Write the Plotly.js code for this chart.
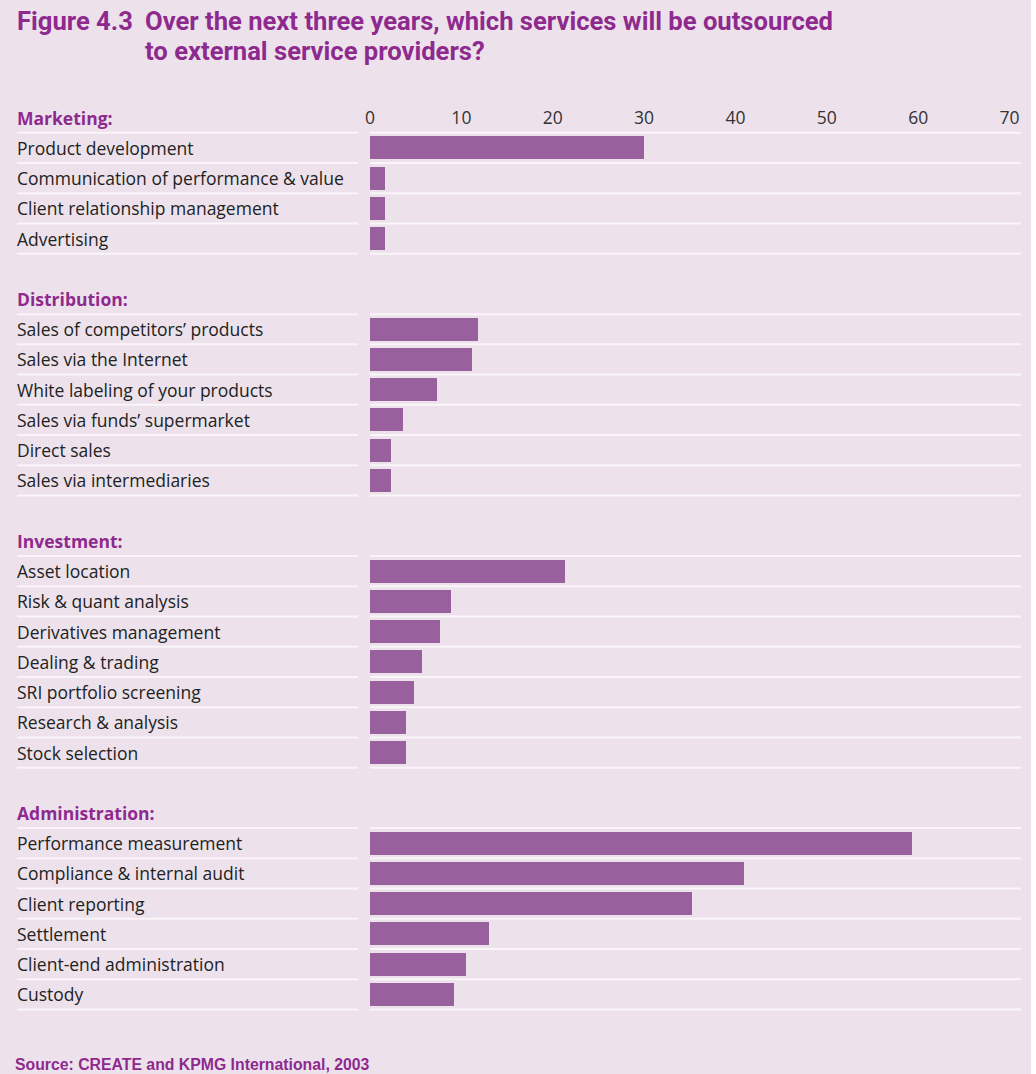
<!DOCTYPE html>
<html>
<head>
<meta charset="utf-8">
<script src="https://cdn.plot.ly/plotly-3.0.1.min.js"></script>
<style>
  html, body { margin: 0; padding: 0; background: #ffffff; }
  #chart { width: 1031px; height: 1074px; }
</style>
</head>
<body>
<div id="chart"></div>
<script>
// ---- Data ----
const groupNames = ["Marketing:", "Distribution:", "Investment:", "Administration:"];

const marketingLabels = ["Product development", "Communication of performance & value", "Client relationship management", "Advertising"];
const marketingValues = [30, 1.6, 1.6, 1.6];

const distributionLabels = ["Sales of competitors’ products", "Sales via the Internet", "White labeling of your products", "Sales via funds’ supermarket", "Direct sales", "Sales via intermediaries"];
const distributionValues = [11.8, 11.2, 7.3, 3.6, 2.3, 2.3];

const investmentLabels = ["Asset location", "Risk & quant analysis", "Derivatives management", "Dealing & trading", "SRI portfolio screening", "Research & analysis", "Stock selection"];
const investmentValues = [21.3, 8.9, 7.7, 5.7, 4.8, 3.9, 3.9];

const administrationLabels = ["Performance measurement", "Compliance & internal audit", "Client reporting", "Settlement", "Client-end administration", "Custody"];
const administrationValues = [59.3, 40.9, 35.2, 13.0, 10.5, 9.2];

const xTickValues = [0, 10, 20, 30, 40, 50, 60, 70];

const titleLabel = "Figure 4.3";
const titleLines = ["Over the next three years, which services will be outsourced", "to external service providers?"];
const sourceText = "Source: CREATE and KPMG International, 2003";

// ---- Styles ----
const bgColor = "#ede2ec";
const barColor = "#98609c";
const purple = "#8e2a8e";
const lineColor = "#f9f5f9";
const labelFont = "Open Sans, Noto Sans, sans-serif";
const titleFont = "Roboto, Liberation Sans, sans-serif";

// ---- Build rows ----
const groups = [
  { labels: marketingLabels, values: marketingValues },
  { labels: distributionLabels, values: distributionValues },
  { labels: investmentLabels, values: investmentValues },
  { labels: administrationLabels, values: administrationValues }
];

const plotLeft = 370, plotWidth = 651, plotTop = 101;
const px = p => (p - plotLeft) / plotWidth;

const barY = [], barX = [];
const annotations = [];
const shapes = [];
const labelX = px(15);
const lineStart = px(17);
const leftLineEnd = px(358);

let row = 0;
groups.forEach((g, gi) => {
  annotations.push({
    xref: "paper", yref: "y", x: labelX, y: row, xanchor: "left", yanchor: "middle",
    text: "<b>" + groupNames[gi] + "</b>", showarrow: false,
    font: { family: labelFont, size: 17.5, color: purple }
  });
  const lineRows = [row];
  row += 1;
  g.labels.forEach((lab, i) => {
    annotations.push({
      xref: "paper", yref: "y", x: labelX, y: row, xanchor: "left", yanchor: "middle",
      text: lab, showarrow: false,
      font: { family: labelFont, size: 17.5, color: "#222222" }
    });
    barY.push(row);
    barX.push(g.values[i]);
    lineRows.push(row);
    row += 1;
  });
  lineRows.forEach(r => {
    shapes.push({ type: "line", xref: "paper", yref: "y", x0: lineStart, x1: leftLineEnd, y0: r + 0.5, y1: r + 0.5,
      line: { color: lineColor, width: 2 } });
    shapes.push({ type: "line", xref: "paper", yref: "y", x0: 0, x1: 1, y0: r + 0.5, y1: r + 0.5,
      line: { color: lineColor, width: 2 } });
  });
  row += 1; // blank row between groups
});

// Title and source
annotations.push({
  xref: "paper", yref: "paper", x: px(15), y: 1, yshift: plotTop - 21, xanchor: "left", yanchor: "middle",
  text: "<b>" + titleLabel + "</b>", showarrow: false, align: "left",
  font: { family: titleFont, size: 25.6, color: purple }
});
titleLines.forEach((t, i) => {
  annotations.push({
    xref: "paper", yref: "paper", x: px(143), y: 1, yshift: plotTop - 21 - 30 * i, xanchor: "left", yanchor: "middle",
    text: "<b>" + t + "</b>", showarrow: false, align: "left",
    font: { family: titleFont, size: 25.6, color: purple }
  });
});
annotations.push({
  xref: "paper", yref: "paper", x: px(13), y: 0, yshift: -(1064 - 1011), xanchor: "left", yanchor: "middle",
  text: "<b>" + sourceText + "</b>", showarrow: false, align: "left",
  font: { family: "Liberation Sans, Arial, sans-serif", size: 15.8, color: purple }
});

const trace = {
  type: "bar", orientation: "h",
  x: barX, y: barY, width: 0.76,
  marker: { color: barColor, line: { width: 0 } },
  hoverinfo: "none"
};

const layout = {
  width: 1031, height: 1074,
  paper_bgcolor: bgColor, plot_bgcolor: bgColor,
  margin: { l: plotLeft, r: 1031 - plotLeft - plotWidth, t: plotTop, b: 63 },
  showlegend: false,
  xaxis: {
    side: "top", range: [0, 71.25], tickvals: xTickValues,
    showgrid: false, zeroline: false, showline: false, ticks: "",
    ticklabelposition: "inside", ticklabeloverflow: "allow", ticklabelstandoff: 8,
    tickfont: { family: labelFont, size: 17.5, color: "#333333" },
    fixedrange: true
  },
  yaxis: {
    range: [29.55, -0.55], showticklabels: false, showgrid: false, zeroline: false, showline: false, ticks: "",
    fixedrange: true
  },
  annotations: annotations,
  shapes: shapes,
  bargap: 0
};

Plotly.newPlot("chart", [trace], layout, { staticPlot: true });
</script>
</body>
</html>
